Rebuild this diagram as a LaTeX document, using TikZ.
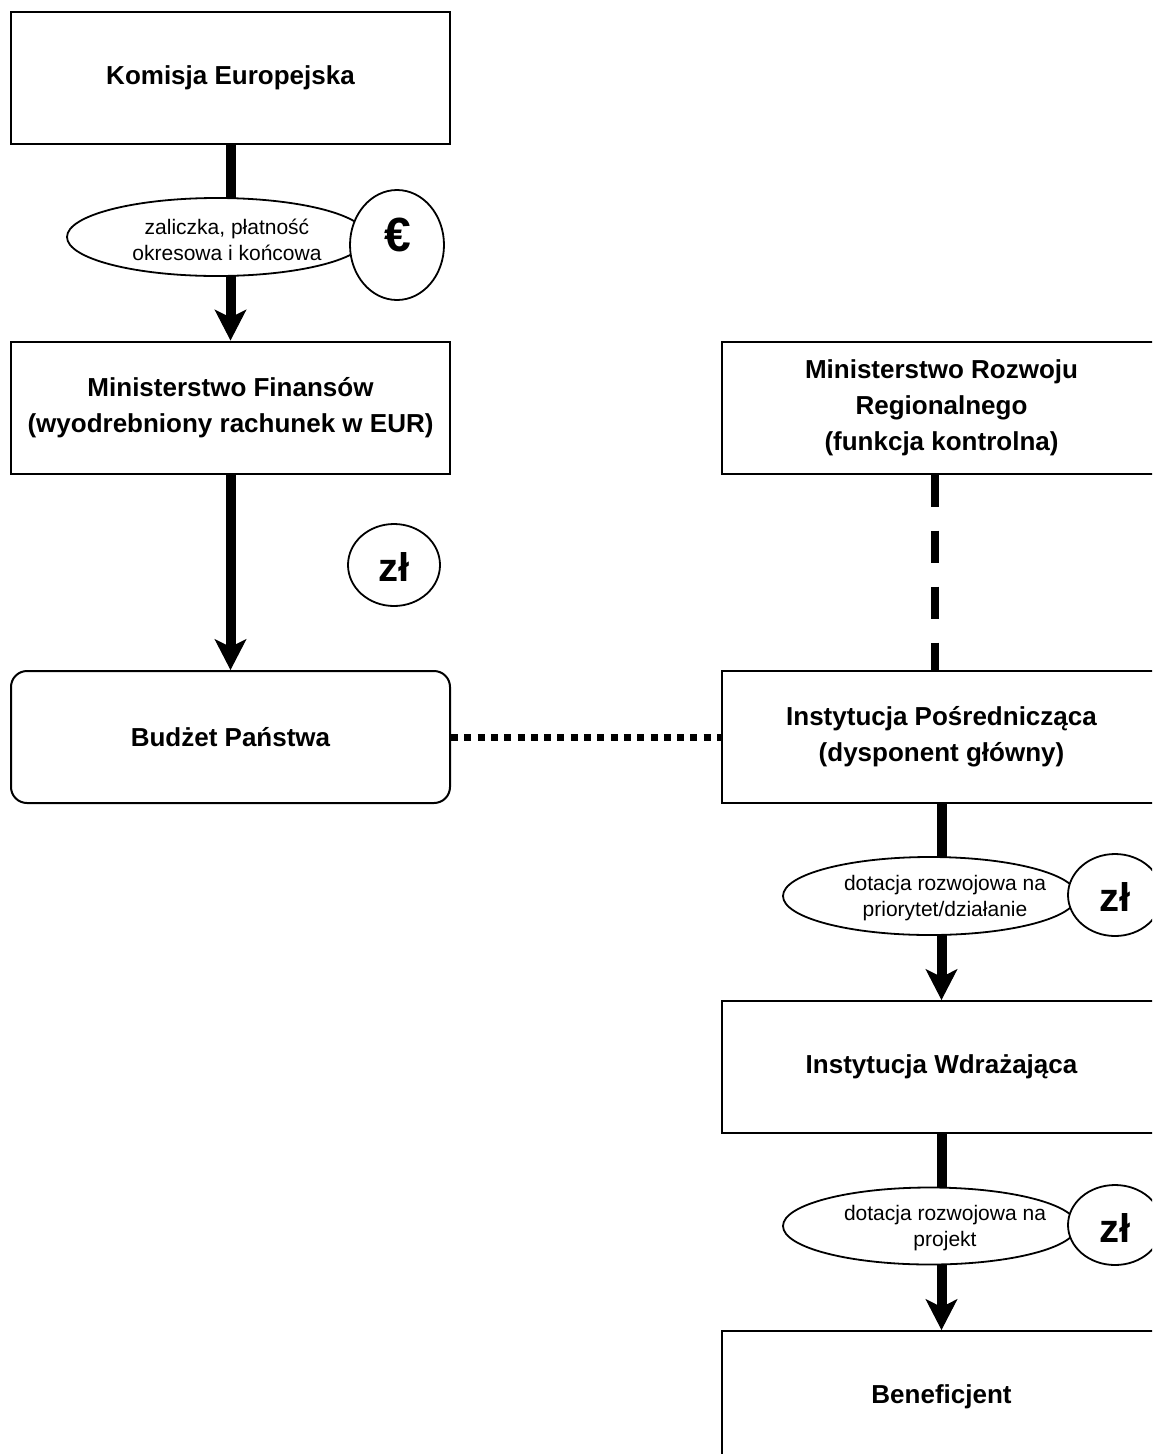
\documentclass[tikz,border=0pt]{standalone}
\usepackage{fontspec}
\setmainfont{Liberation Sans}
\usetikzlibrary{arrows.meta,shapes.geometric}
\begin{document}
\begin{tikzpicture}[x=1pt,y=-1pt,
  box/.style={draw,line width=2pt,minimum width=439pt,minimum height=132pt,inner sep=0pt,align=center,fill=white,
    font=\fontsize{26}{36}\selectfont\bfseries},
  flow/.style={line width=10pt,-{Stealth[length=31pt,width=32pt,inset=8pt,line width=1pt]}},
  ctrl/.style={line width=8pt,dash pattern=on 32pt off 24pt},
  link/.style={line width=7pt,dash pattern=on 7pt off 6.3pt},
  oval/.style={ellipse,draw,line width=1.8pt,fill=white,inner sep=0pt},
  otext/.style={align=center,inner sep=0pt,font=\fontsize{21}{26}\selectfont},
  ctext/.style={inner sep=0pt,font=\fontsize{40}{40}\selectfont\bfseries}]
\useasboundingbox (0,0) rectangle (1152,1454);
\clip (0,0) rectangle (1152,1454);
\fill[white] (0,0) rectangle (1152,1454);
% boxes
\node[box] (ke) at (230.5,78) {Komisja Europejska};
\node[box] (mf) at (230.5,407.5) {Ministerstwo Finansów\\(wyodrebniony rachunek w EUR)};
\node[box,rounded corners=16pt] (bp) at (230.5,737) {Budżet Państwa};
\node[box] (mrr) at (941.5,407.5) {Ministerstwo Rozwoju\\Regionalnego\\(funkcja kontrolna)};
\node[box] (ip) at (941.5,737) {Instytucja Pośrednicząca\\(dysponent główny)};
\node[box] (iw) at (941.5,1067) {Instytucja Wdrażająca};
\node[box] (ben) at (941.5,1397) {Beneficjent};
% connectors
\draw[flow] (ke.south) -- (mf.north);
\draw[flow] (mf.south) -- (bp.north);
\draw[flow] (ip.south) -- (iw.north);
\draw[flow] (iw.south) -- (ben.north);
\draw[ctrl] ([xshift=-7pt]mrr.south) -- ([xshift=-7pt]ip.north);
\draw[link] (bp.east) -- (ip.west);
% labels
\node[oval,minimum width=300pt,minimum height=78pt] (o1) at (217,237) {};
\node[otext] (o1t) at (227,240) {zaliczka, płatność\\okresowa i końcowa};
\node[oval,minimum width=94pt,minimum height=110pt] (c1) at (397,245) {};
\node[ctext,font=\fontsize{48}{48}\selectfont\bfseries] (c1t) at (398,235) {€};
\node[oval,minimum width=92pt,minimum height=82pt] (c2) at (394,565) {};
\node[ctext] (c2t) at (394,567) {zł};
\node[oval,minimum width=294pt,minimum height=78pt] (o2) at (930,896) {};
\node[otext] (o2t) at (945,898) {dotacja rozwojowa na\\priorytet/działanie};
\node[oval,minimum width=94pt,minimum height=82pt] (c3) at (1115,895) {};
\node[ctext] (c3t) at (1115,897) {zł};
\node[oval,minimum width=294pt,minimum height=77pt] (o3) at (930,1226) {};
\node[otext] (o3t) at (945,1228) {dotacja rozwojowa na\\projekt};
\node[oval,minimum width=94pt,minimum height=80pt] (c4) at (1115,1225) {};
\node[ctext] (c4t) at (1115,1228) {zł};
\end{tikzpicture}
\end{document}
